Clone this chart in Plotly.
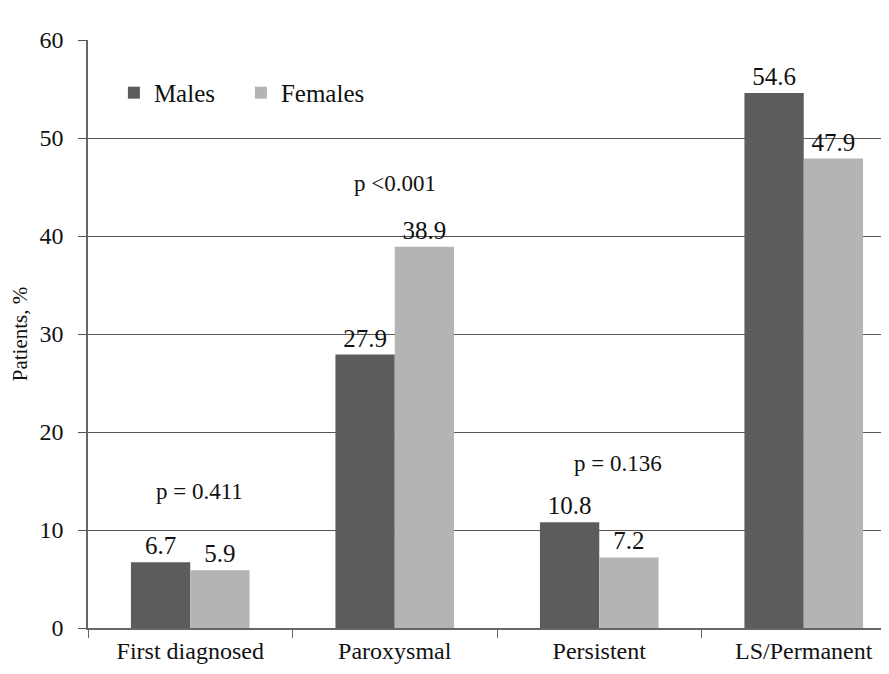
import plotly.graph_objects as go

categories = ["First diagnosed", "Paroxysmal", "Persistent", "LS/Permanent"]
males = [6.7, 27.9, 10.8, 54.6]
females = [5.9, 38.9, 7.2, 47.9]
p_labels = ["p = 0.411", "p <0.001", "p = 0.136", "p = 0.032"]
p_y = [13.9, 45.4, 16.8, 61.8]
y_ticks = [0, 10, 20, 30, 40, 50, 60]

FONT = "Liberation Serif, Times New Roman, serif"

fig = go.Figure()
fig.add_trace(go.Bar(
    name="Males", x=categories, y=males,
    marker=dict(color="#5c5c5c", line=dict(width=0)),
    text=[f"{v:.1f}" for v in males], textposition="outside",
    textfont=dict(family=FONT, size=25, color="#111"), cliponaxis=False,
))
fig.add_trace(go.Bar(
    name="Females", x=categories, y=females,
    marker=dict(color="#b4b4b4", line=dict(width=0)),
    text=[f"{v:.1f}" for v in females], textposition="outside",
    textfont=dict(family=FONT, size=25, color="#111"), cliponaxis=False,
))

offsets = [0.045, 0.0, 0.09, 0.055]
for i, (lab, yv) in enumerate(zip(p_labels, p_y)):
    fig.add_annotation(x=i + offsets[i], y=yv, xref="x", yref="y", text=lab,
                       showarrow=False, font=dict(family=FONT, size=23, color="#111"))

fig.update_layout(
    width=889, height=674,
    margin=dict(l=80, r=0, t=32, b=54),
    paper_bgcolor="white", plot_bgcolor="white",
    barmode="group", bargap=0.42, bargroupgap=0,
    font=dict(family=FONT, size=24, color="#111"),
    showlegend=True,
    legend=dict(orientation="h", x=0.032, y=0.91, xanchor="left", yanchor="middle",
                font=dict(family=FONT, size=25, color="#111"),
                bgcolor="rgba(0,0,0,0)", entrywidth=82, entrywidthmode="pixels",
                traceorder="normal"),
    xaxis=dict(
        type="category", range=[-0.5, 3.456],
        showline=True, linecolor="#666", linewidth=1.5,
        ticks="outside", tickson="boundaries", ticklen=8, tickcolor="#666",
        tickfont=dict(family=FONT, size=24, color="#111"),
        showgrid=False,
    ),
    yaxis=dict(
        range=[0, 60], tickvals=y_ticks,
        showline=True, linecolor="#666", linewidth=1.5,
        ticks="outside", ticklen=8, tickcolor="#555", ticklabelstandoff=10,
        showgrid=True, gridcolor="#555", gridwidth=1.3,
        zeroline=False,
        tickfont=dict(family=FONT, size=24, color="#111"),
        title=dict(text="Patients, %", font=dict(family=FONT, size=21, color="#111"), standoff=6),
    ),
)

fig.write_html("out.html")
